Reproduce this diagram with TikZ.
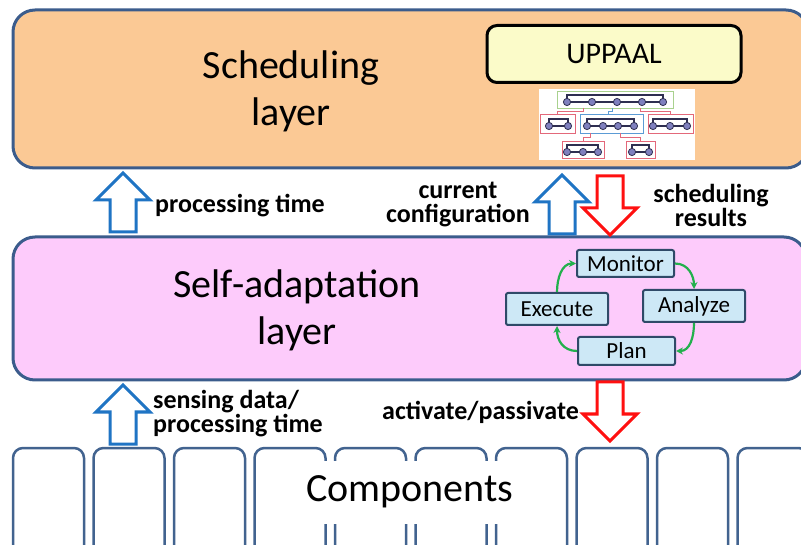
\documentclass[tikz,border=0pt]{standalone}
\usepackage{fontspec}
\setmainfont{Carlito}
\usetikzlibrary{arrows.meta}

\definecolor{peach}{HTML}{FBC995}
\definecolor{pinkfill}{HTML}{FDCBFB}
\definecolor{layerborder}{HTML}{3B5C8C}
\definecolor{boxborder}{HTML}{42638F}
\definecolor{uppaalfill}{HTML}{FBFBC9}
\definecolor{mapefill}{HTML}{CDE8F6}
\definecolor{mapeborder}{HTML}{2F4A68}
\definecolor{cyclegreen}{HTML}{22B04C}
\definecolor{arrowblue}{HTML}{1F74C4}
\definecolor{arrowred}{HTML}{FF1010}
\definecolor{dotfill}{HTML}{7F80BE}
\definecolor{dotline}{HTML}{2E2E50}
\definecolor{grpgreen}{HTML}{A9D18E}
\definecolor{grpred}{HTML}{E3687A}
\definecolor{grpblue}{HTML}{5B9BD5}

% draws one chain of states: bracket from first to last, link line, dots
\newcommand\statechain[4]{%
  \draw[chainline] (#1,#3) -- (#1,#3-7) -- (#2,#3-7) -- (#2,#3);
  \draw[chainline] (#1,#3) -- (#2,#3);
  \foreach \cx in {#4} \filldraw[chaindot] (\cx,#3) circle (3.6);
}

\tikzset{
  layer/.style={draw=layerborder, line width=3pt, rounded corners=22pt},
  bigtext/.style={font=\fontsize{40}{47}\selectfont, align=center, inner sep=0pt},
  compbox/.style={draw=boxborder, line width=2.5pt, rounded corners=10pt, fill=white,
    minimum width=71pt, minimum height=117pt, inner sep=0pt},
  mape/.style={draw=mapeborder, line width=2pt, fill=mapefill, rounded corners=2pt,
    font=\fontsize{23}{23}\selectfont, inner sep=0pt},
  cyc/.style={draw=cyclegreen, line width=2.2pt, -{Stealth[length=7pt,width=7pt]}},
  lbl/.style={font=\fontsize{26}{24}\selectfont\bfseries, inner sep=0pt},
  blockarrow/.style={line width=3pt, fill=white, line join=miter},
  chainline/.style={draw=dotline, line width=1.1pt},
  chaindot/.style={fill=dotfill, draw=dotline, line width=0.8pt},
  grp/.style={line width=0.9pt},
  blockup/.pic={\draw[blockarrow] (0,0) -- (27,27) -- (13,27) -- (13,59) -- (-13,59)
    -- (-13,27) -- (-27,27) -- cycle;},
  blockdown/.pic={\draw[blockarrow] (0,0) -- (27,-27) -- (13,-27) -- (13,-59) -- (-13,-59)
    -- (-13,-27) -- (-27,-27) -- cycle;},
}

\begin{document}
\begin{tikzpicture}[x=1pt,y=-1pt]
\path[use as bounding box, fill=white] (0,0) rectangle (801,545);

% ---------- scheduling layer ----------
\node[layer, fill=peach, minimum width=795pt, minimum height=158pt] (sched) at (410.5,89) {};
\node[bigtext] (schedtxt) at (291,91) {Scheduling\\layer};
\node[draw=black, line width=3pt, rounded corners=10pt, fill=uppaalfill,
  minimum width=254pt, minimum height=57pt, font=\fontsize{30}{30}\selectfont]
  (uppaal) at (614,54) {UPPAAL};

% small tree of state chains
\fill[white] (539,89) rectangle (695,160);
\draw[grp, draw=grpgreen] (557,91) rectangle (673,108);
\draw[grp, draw=grpred]  (540,114) rectangle (575,133);
\draw[grp, draw=grpblue] (580,114) rectangle (643,133);
\draw[grp, draw=grpred]  (648,114) rectangle (693,133);
\draw[grp, draw=grpred]  (562,141) rectangle (604,158);
\draw[grp, draw=grpred]  (626,141) rectangle (655,158);
\draw[grp, draw=grpred]  (583,108) -- (583,111) -- (557,111) -- (557,114);
\draw[grp, draw=grpblue] (612,108) -- (612,111) -- (608,111) -- (608,114);
\draw[grp, draw=grpred]  (640,108) -- (640,111) -- (670,111) -- (670,114);
\draw[grp, draw=grpred]  (590,133) -- (590,137) -- (583,137) -- (583,141);
\draw[grp, draw=grpred]  (620,133) -- (620,137) -- (640,137) -- (640,141);
\statechain{567}{663}{102}{567,592,617,642,663}
\statechain{549}{568}{126}{549,568}
\statechain{587}{634}{126}{587,603,618,634}
\statechain{653}{687}{126}{653,670,687}
\statechain{567}{598}{152}{567,583,598}
\statechain{632}{649}{152}{632,649}

% ---------- self-adaptation layer ----------
\node[layer, fill=pinkfill, minimum width=793pt, minimum height=143pt] (selfad) at (409.5,308.5) {};
\node[bigtext] (selftxt) at (297,310) {Self-adaptation\\layer};

\node[mape, minimum width=97pt, minimum height=27pt]  (mon)  at (625.5,263.5) {Monitor};
\node[mape, minimum width=102pt, minimum height=32pt] (ana)  at (694,306) {Analyze};
\node[mape, minimum width=102pt, minimum height=32pt] (exe)  at (557,309) {Execute};
\node[mape, minimum width=97pt, minimum height=28pt]  (plan) at (626.5,351) {Plan};
\draw[cyc] (mon.east) .. controls +(14,0) and +(0,-12) .. (ana.north);
\draw[cyc] (ana.south) .. controls +(0,14) and +(14,0) .. (plan.east);
\draw[cyc] (plan.west) .. controls +(-14,0) and +(0,14) .. (exe.south);
\draw[cyc] (exe.north) .. controls +(0,-14) and +(-14,0) .. (mon.west);

% ---------- arrows between layers ----------
\pic[color=arrowblue] (upPT) at (123,173) {blockup};
\pic[color=arrowblue] (upCC) at (562,175) {blockup};
\pic[color=arrowred]  (dnSR) at (610,235) {blockdown};
\pic[color=arrowblue] (upSD) at (123,385) {blockup};
\pic[color=arrowred]  (dnAP) at (610,441) {blockdown};

\node[lbl, anchor=west] (lblpt) at (155,206) {processing time};
\node[lbl, align=center] (lblcc) at (458,205) {current\\configuration};
\node[lbl, align=center] (lblsr) at (711,205) {scheduling\\results};
\node[lbl, align=left, anchor=west] (lblsd) at (153,414) {sensing data/\\processing time};
\node[lbl, anchor=east] (lblap) at (579,412) {activate/passivate};

% ---------- components ----------
\foreach \i in {0,...,9}
  \node[compbox] (comp\i) at (48.5+80.5*\i,506.5) {};
\node[fill=white, inner xsep=6pt, minimum height=63pt, font=\fontsize{40}{40}\selectfont]
  (comptxt) at (410,492) {Components};
\end{tikzpicture}
\end{document}
